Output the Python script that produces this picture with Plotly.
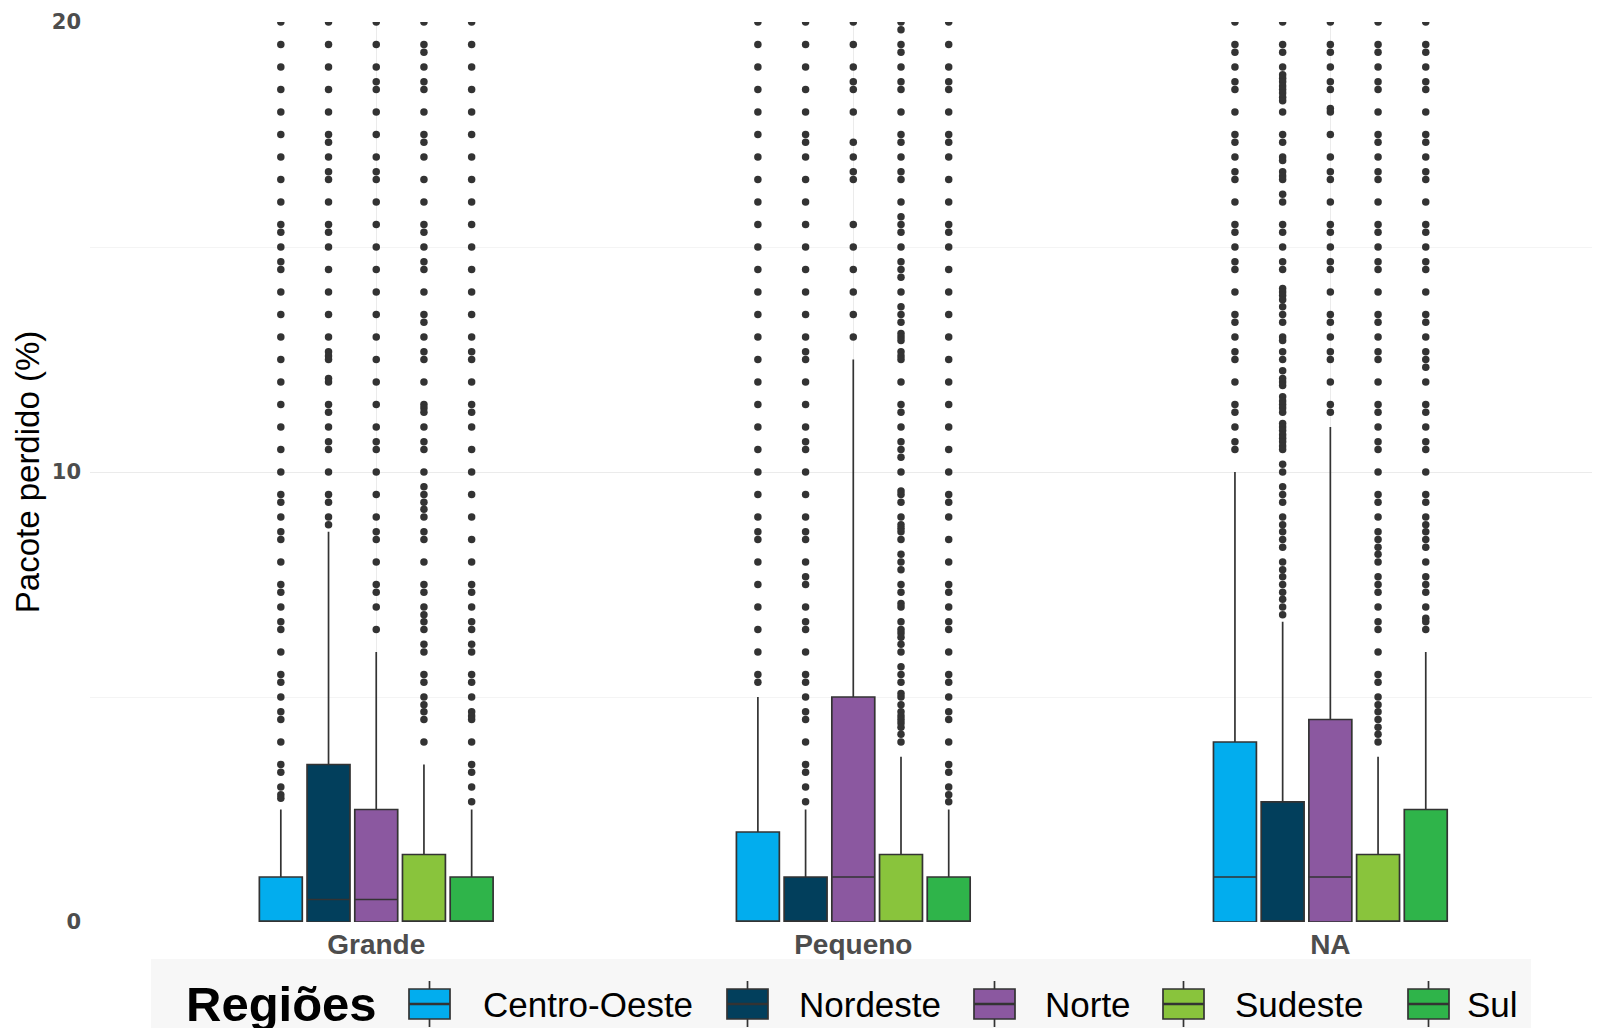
import plotly.graph_objects as go

categories = ["Grande", "Pequeno", "NA"]
regions = ["Centro-Oeste", "Nordeste", "Norte", "Sudeste", "Sul"]
colors = ["#02ADEE", "#023F5C", "#8B58A0", "#89C43C", "#2FB44A"]

# box statistics per region, ordered as categories
q1_co = [0, 0, 0]
med_co = [0, 0, 1.0]
q3_co = [1.0, 2.0, 4.0]
upper_co = [2.5, 5.0, 10.0]

q1_ne = [0, 0, 0]
med_ne = [0.5, 0, 0]
q3_ne = [3.5, 1.0, 2.67]
upper_ne = [8.67, 2.5, 6.67]

q1_no = [0, 0, 0]
med_no = [0.5, 1.0, 1.0]
q3_no = [2.5, 5.0, 4.5]
upper_no = [6.0, 12.5, 11.0]

q1_se = [0, 0, 0]
med_se = [0, 0, 0]
q3_se = [1.5, 1.5, 1.5]
upper_se = [3.5, 3.67, 3.67]

q1_su = [0, 0, 0]
med_su = [0, 0, 0]
q3_su = [1.0, 1.0, 2.5]
upper_su = [2.5, 2.5, 6.0]

lower_all = [0, 0, 0]

# outliers (visible part, <= 20)
out_co_grande = [20, 19.5, 19, 18.5, 18, 17.5, 17, 16.5, 16, 15.5, 15.33, 15, 14.67, 14.5, 14, 13.5, 13, 12.5, 12,
                 11.5, 11, 10.5, 10, 9.5, 9.33, 9, 8.67, 8.5, 8, 7.5, 7.33, 7, 6.67, 6.5, 6, 5.5, 5.33, 5, 4.67,
                 4.5, 4, 3.5, 3.33, 3, 2.83, 2.75]
out_ne_grande = [20, 19.5, 19, 18.5, 18, 17.5, 17.33, 17, 16.67, 16.5, 16, 15.5, 15.33, 15, 14.5, 14, 13.5, 13,
                 12.67, 12.58, 12.5, 12.08, 12, 11.5, 11.33, 11, 10.67, 10.5, 10, 9.5, 9.33, 9, 8.83]
out_no_grande = [20, 19.5, 19, 18.67, 18.5, 18, 17.5, 17, 16.67, 16.5, 16, 15.5, 15, 14.5, 14, 13.5, 13, 12.5, 12,
                 11.5, 11, 10.67, 10.5, 10, 9.5, 9, 8.67, 8.5, 8, 7.5, 7.33, 7, 6.5]
out_se_grande = [20, 19.5, 19.33, 19, 18.67, 18.5, 18, 17.5, 17.33, 17, 16.5, 16, 15.5, 15.33, 15, 14.67, 14.5, 14,
                 13.5, 13.33, 13, 12.67, 12.5, 12, 11.5, 11.42, 11.33, 11, 10.67, 10.5, 10, 9.67, 9.5, 9.33, 9.17,
                 9, 8.67, 8.5, 8, 7.5, 7.33, 7, 6.83, 6.67, 6.5, 6.17, 6, 5.5, 5.33, 5, 4.83, 4.67, 4.5, 4]
out_su_grande = [20, 19.5, 19, 18.5, 18, 17.5, 17, 16.5, 16, 15.5, 15, 14.5, 14, 13.5, 13, 12.67, 12.5, 12, 11.5,
                 11.33, 11, 10.5, 10, 9.5, 9, 8.5, 8, 7.5, 7.33, 7, 6.67, 6.5, 6.17, 6, 5.5, 5.33, 5, 4.67, 4.58,
                 4.5, 4, 3.5, 3.33, 3, 2.67]

out_co_pequeno = [20, 19.5, 19, 18.5, 18, 17.5, 17, 16.5, 16, 15.5, 15, 14.5, 14, 13.5, 13, 12.5, 12, 11.5, 11,
                  10.5, 10, 9.5, 9, 8.67, 8.5, 8, 7.5, 7, 6.5, 6, 5.5, 5.33]
out_ne_pequeno = [20, 19.5, 19, 18.5, 18, 17.5, 17.33, 17, 16.5, 16, 15.5, 15, 14.5, 14, 13.5, 13, 12.67, 12.5,
                  12, 11.5, 11, 10.67, 10.5, 10, 9.5, 9, 8.67, 8.5, 8, 7.67, 7.5, 7, 6.67, 6.5, 6, 5.5, 5.33, 5,
                  4.67, 4.5, 4, 3.5, 3.33, 3, 2.67]
out_no_pequeno = [20, 19.5, 19, 18.67, 18.5, 18, 17.33, 17, 16.67, 16.5, 15.5, 15, 14.5, 14, 13.5, 13]
out_se_pequeno = [20, 19.83, 19.5, 19.33, 19, 18.67, 18.5, 18, 17.5, 17.33, 17, 16.67, 16.5, 16, 15.67, 15.5,
                  15.33, 15, 14.67, 14.5, 14.33, 14, 13.67, 13.5, 13.33, 13.08, 13, 12.92, 12.67, 12.58, 12.5, 12,
                  11.5, 11.33, 11, 10.67, 10.5, 10.33, 10, 9.58, 9.5, 9.33, 9, 8.83, 8.75, 8.67, 8.5, 8.17, 8,
                  7.83, 7.5, 7.33, 7.08, 7, 6.67, 6.5, 6.42, 6.33, 6.17, 6, 5.67, 5.5, 5.33, 5.08, 5, 4.83, 4.67,
                  4.58, 4.5, 4.42, 4.33, 4.17, 4.0]
out_su_pequeno = [20, 19.5, 19, 18.67, 18.5, 18, 17.5, 17.33, 17, 16.5, 16, 15.5, 15.33, 15, 14.5, 14, 13.5, 13,
                  12.5, 12, 11.5, 11, 10.5, 10, 9.5, 9.33, 9, 8.5, 8, 7.5, 7.33, 7, 6.67, 6.5, 6, 5.5, 5.33, 5,
                  4.67, 4.5, 4, 3.5, 3.33, 3, 2.83, 2.67]

out_co_na = [20, 19.5, 19.33, 19, 18.67, 18.5, 18, 17.5, 17.33, 17, 16.67, 16.5, 16, 15.5, 15.33, 15, 14.67, 14.5,
             14, 13.5, 13.33, 13, 12.67, 12.5, 12, 11.5, 11.33, 11, 10.67, 10.5]
out_ne_na = [20, 19.5, 19.33, 19, 18.83, 18.75, 18.67, 18.58, 18.5, 18.42, 18.33, 18.25, 18, 17.5, 17.33, 17,
             16.92, 16.67, 16.58, 16.5, 16.17, 16, 15.5, 15.33, 15, 14.67, 14.5, 14.08, 14, 13.92, 13.83, 13.67,
             13.5, 13.33, 13, 12.92, 12.67, 12.5, 12.25, 12.08, 12, 11.92, 11.67, 11.58, 11.5, 11.42, 11.33,
             11.08, 11, 10.92, 10.83, 10.75, 10.67, 10.58, 10.5, 10.17, 10, 9.67, 9.5, 9.33, 9, 8.83, 8.67, 8.5,
             8.33, 8, 7.83, 7.67, 7.5, 7.33, 7.17, 7, 6.83]
out_no_na = [20, 19.5, 19.33, 19, 18.67, 18.5, 18.08, 18, 17.5, 17, 16.67, 16.5, 16, 15.5, 15.33, 15, 14.67, 14.5,
             14, 13.5, 13.33, 13, 12.67, 12.5, 12, 11.5, 11.33]
out_se_na = [20, 19.5, 19.33, 19, 18.67, 18.5, 18, 17.5, 17.33, 17, 16.67, 16.5, 16, 15.5, 15.33, 15, 14.67, 14.5,
             14, 13.5, 13.33, 13, 12.67, 12.5, 12, 11.5, 11.33, 11, 10.67, 10.5, 10, 9.5, 9.33, 9, 8.67, 8.5,
             8.33, 8.17, 8, 7.67, 7.5, 7.33, 7, 6.67, 6.5, 6, 5.5, 5.33, 5, 4.83, 4.67, 4.5, 4.33, 4.17, 4.0]
out_su_na = [20, 19.5, 19.33, 19, 18.67, 18.5, 18, 17.5, 17.33, 17, 16.67, 16.5, 16, 15.5, 15.33, 15, 14.67, 14.5,
             14, 13.5, 13.33, 13, 12.67, 12.5, 12.33, 12, 11.5, 11.33, 11, 10.67, 10.5, 10, 9.5, 9.33, 9, 8.83,
             8.67, 8.5, 8.33, 8, 7.67, 7.5, 7.33, 7, 6.75, 6.67, 6.5]

box_stats = [
    (q1_co, med_co, q3_co, upper_co),
    (q1_ne, med_ne, q3_ne, upper_ne),
    (q1_no, med_no, q3_no, upper_no),
    (q1_se, med_se, q3_se, upper_se),
    (q1_su, med_su, q3_su, upper_su),
]
outliers = [
    (out_co_grande, out_co_pequeno, out_co_na),
    (out_ne_grande, out_ne_pequeno, out_ne_na),
    (out_no_grande, out_no_pequeno, out_no_na),
    (out_se_grande, out_se_pequeno, out_se_na),
    (out_su_grande, out_su_pequeno, out_su_na),
]

# ---- layout geometry (pixels) ----
W, H = 1600, 1028
ML, MR, MT, MB = 82, 0, 14, 114
PAGE_OFF = 8  # default body margin of the html page
plot_w = W - ML - MR
plot_h = H - MT - MB


def px2x(px):
    return (px - PAGE_OFF - ML) / plot_w


def px2y(py):
    return (H - MB + PAGE_OFF - py) / plot_h


fig = go.Figure()
for i, reg in enumerate(regions):
    q1, med, q3, up = box_stats[i]
    fig.add_trace(go.Box(
        name=reg, x=categories, q1=q1, median=med, q3=q3,
        lowerfence=lower_all, upperfence=up,
        fillcolor=colors[i], line=dict(color="#333333", width=1.7),
        whiskerwidth=0, boxpoints=False, offsetgroup=reg, alignmentgroup="a",
        legendgroup=reg, showlegend=False, hoverinfo="skip",
    ))
for i, reg in enumerate(regions):
    xs, ys = [], []
    for c, vals in zip(categories, outliers[i]):
        xs += [c] * len(vals)
        ys += vals
    fig.add_trace(go.Scatter(
        x=xs, y=ys, mode="markers", name=reg, offsetgroup=reg, alignmentgroup="a",
        marker=dict(color="#333333", size=7.5, line=dict(width=0)),
        legendgroup=reg, showlegend=False, hoverinfo="skip",
    ))

# ---- legend drawn as keys + labels (ggplot style) ----
legend_bg_px = (151, 959, 1531, 1045)
legend_title_px = (184, 1004)
key_left_px = [409, 727, 974, 1163, 1408]
label_left_px = [481, 797, 1043, 1233, 1465]
key_w, key_h, key_cy, whisk = 41, 30, 1004, 8

shapes = [dict(type="rect", xref="paper", yref="paper",
               x0=px2x(legend_bg_px[0]), x1=px2x(legend_bg_px[2]),
               y0=px2y(legend_bg_px[3]), y1=px2y(legend_bg_px[1]),
               fillcolor="#f7f7f7", line=dict(width=0), layer="below")]
annotations = [dict(text="<b>Regiões</b>", xref="paper", yref="paper",
                    x=px2x(legend_title_px[0]), y=px2y(legend_title_px[1]),
                    xanchor="left", yanchor="middle", showarrow=False,
                    font=dict(size=49, color="#000000"))]
for i, reg in enumerate(regions):
    kx0, kx1 = key_left_px[i], key_left_px[i] + key_w
    kc = (kx0 + kx1) / 2
    shapes.append(dict(type="line", xref="paper", yref="paper",
                       x0=px2x(kc), x1=px2x(kc),
                       y0=px2y(key_cy - key_h / 2 - whisk), y1=px2y(key_cy + key_h / 2 + whisk),
                       line=dict(color="#333333", width=1.7)))
    shapes.append(dict(type="rect", xref="paper", yref="paper",
                       x0=px2x(kx0), x1=px2x(kx1),
                       y0=px2y(key_cy + key_h / 2), y1=px2y(key_cy - key_h / 2),
                       fillcolor=colors[i], line=dict(color="#333333", width=1.7)))
    shapes.append(dict(type="line", xref="paper", yref="paper",
                       x0=px2x(kx0), x1=px2x(kx1),
                       y0=px2y(key_cy), y1=px2y(key_cy),
                       line=dict(color="#333333", width=2.6)))
    annotations.append(dict(text=reg, xref="paper", yref="paper",
                            x=px2x(label_left_px[i]), y=px2y(key_cy),
                            xanchor="left", yanchor="middle", showarrow=False,
                            font=dict(size=35, color="#000000")))

fig.update_layout(
    width=W, height=H,
    margin=dict(l=ML, r=MR, t=MT, b=MB, autoexpand=False),
    paper_bgcolor="white", plot_bgcolor="white",
    boxmode="group", boxgap=0.5, boxgroupgap=0.1,
    scattermode="group", scattergap=0.5,
    showlegend=False,
    font=dict(family="Liberation Sans, Arial, sans-serif", color="#000000"),
    xaxis=dict(
        type="category", categoryorder="array", categoryarray=categories,
        range=[-0.6, 2.582], showgrid=True, gridcolor="#ebebeb", gridwidth=1.2,
        zeroline=False, showline=False, ticks="", automargin=False,
        tickfont=dict(family="Liberation Sans, Arial, sans-serif", size=28, color="#4d4d4d", weight="bold"),
        ticklabelstandoff=3,
    ),
    yaxis=dict(
        range=[0, 20], tickvals=[0, 10, 20], ticktext=["0", "10", "20"],
        showgrid=True, gridcolor="#ebebeb", gridwidth=1.2, zeroline=False, showline=False,
        ticks="", automargin=False,
        minor=dict(tickvals=[5, 15], showgrid=True, gridcolor="#f4f4f4", gridwidth=1),
        tickfont=dict(family="DejaVu Sans, sans-serif", size=21, color="#4d4d4d", weight="bold"),
        ticklabelstandoff=8,
        title=dict(text="Pacote perdido (%)", font=dict(size=33, color="#000000"), standoff=2),
    ),
    shapes=shapes,
    annotations=annotations,
)

fig.write_html("out.html")
